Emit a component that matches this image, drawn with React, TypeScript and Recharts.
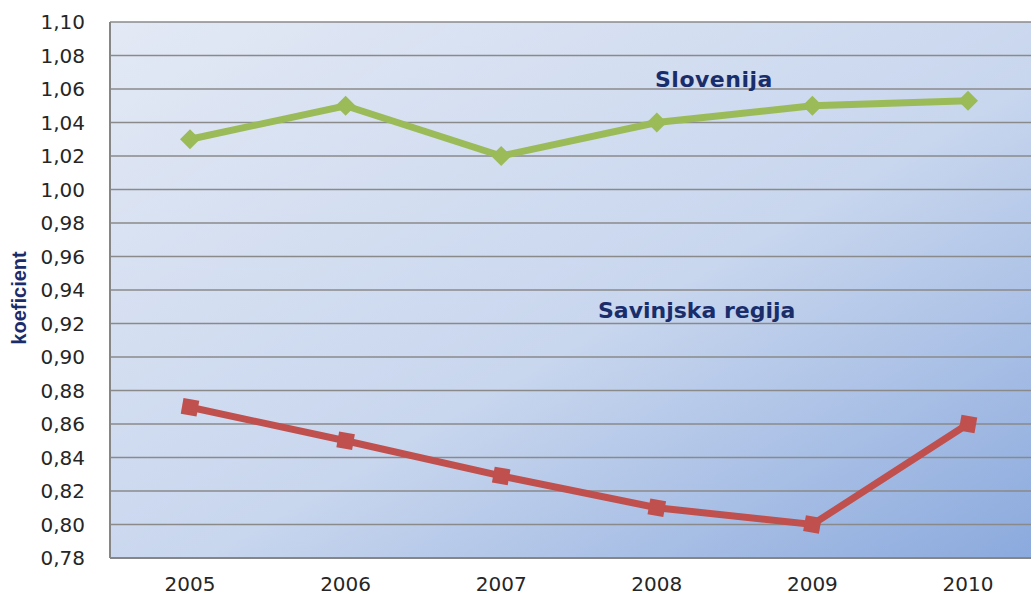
import React from 'react';
import { LineChart, Line, XAxis, YAxis, CartesianGrid } from 'recharts';

const years = ['2005', '2006', '2007', '2008', '2009', '2010'];
const slovenija = [1.03, 1.05, 1.02, 1.04, 1.05, 1.053];
const savinjska = [0.87, 0.85, 0.829, 0.81, 0.8, 0.86];
const yTicks = [0.78, 0.8, 0.82, 0.84, 0.86, 0.88, 0.9, 0.92, 0.94, 0.96, 0.98, 1.0, 1.02, 1.04, 1.06, 1.08, 1.1];

const data = years.map((year, i) => ({ year, slovenija: slovenija[i], savinjska: savinjska[i] }));

const navy = '#1a2d6b';
const tickStyle = { fill: '#262626', fontFamily: 'DejaVu Sans', fontSize: 20 };

const DiamondDot = (props: any) => {
  const { cx, cy } = props;
  if (cx == null || cy == null) return null;
  const r = 10;
  return <path d={`M${cx},${cy - r}L${cx + r},${cy}L${cx},${cy + r}L${cx - r},${cy}Z`} fill="#9bbb59" />;
};

const SquareDot = (props: any) => {
  const { cx, cy } = props;
  if (cx == null || cy == null) return null;
  const s = 8;
  return <rect x={cx - s} y={cy - s} width={s * 2} height={s * 2} fill="#c0504d" transform={`rotate(10 ${cx} ${cy})`} />;
};

const YLabel = () => {
  const x = 26;
  const y = 298;
  return (
    <text x={x} y={y} transform={`rotate(-90 ${x} ${y})`} textAnchor="middle" fill={navy}
      style={{ fontFamily: 'Liberation Sans', fontWeight: 'bold', fontSize: 20 }}>
      koeficient
    </text>
  );
};

export default function App() {
  return (
    <div style={{ position: 'relative', width: 1031, height: 596, overflow: 'hidden', background: '#fff' }}>
      <style>{`body{margin:0}`}</style>
      <LineChart width={1046} height={596} data={data} margin={{ top: 22, right: 2, left: 0, bottom: 0 }}>
        <defs>
          <linearGradient id="plotBg" x1="0" y1="0" x2="1" y2="1">
            <stop offset="0%" stopColor="#e3e9f5" />
            <stop offset="55%" stopColor="#c8d6ee" />
            <stop offset="100%" stopColor="#8aa9dd" />
          </linearGradient>
        </defs>
        <CartesianGrid vertical={false} fill="url(#plotBg)" fillOpacity={1} stroke="#8a8a8a" strokeWidth={1.5} />
        <XAxis dataKey="year" tickLine={false} tickMargin={13} height={38} padding={{ left: 80, right: 76 }}
          axisLine={{ stroke: '#868686', strokeWidth: 2 }} tick={tickStyle} />
        <YAxis domain={[0.78, 1.1]} ticks={yTicks} width={110} tickLine={false} tickMargin={19}
          interval={0} allowDataOverflow
          tickFormatter={(v: number) => v.toFixed(2).replace('.', ',')}
          axisLine={{ stroke: '#868686', strokeWidth: 2 }} tick={tickStyle}
          label={<YLabel />} />
        <Line type="linear" dataKey="slovenija" stroke="#9bbb59" strokeWidth={7}
          dot={<DiamondDot />} activeDot={false} isAnimationActive={false} />
        <Line type="linear" dataKey="savinjska" stroke="#c0504d" strokeWidth={7}
          dot={<SquareDot />} activeDot={false} isAnimationActive={false} />
      </LineChart>
      <div style={{ position: 'absolute', left: 655, top: 67, color: navy, fontFamily: 'DejaVu Sans', fontWeight: 'bold', fontSize: 22, letterSpacing: 0.5 }}>
        Slovenija
      </div>
      <div style={{ position: 'absolute', left: 598, top: 298, color: navy, fontFamily: 'DejaVu Sans', fontWeight: 'bold', fontSize: 22 }}>
        Savinjska regija
      </div>
    </div>
  );
}
